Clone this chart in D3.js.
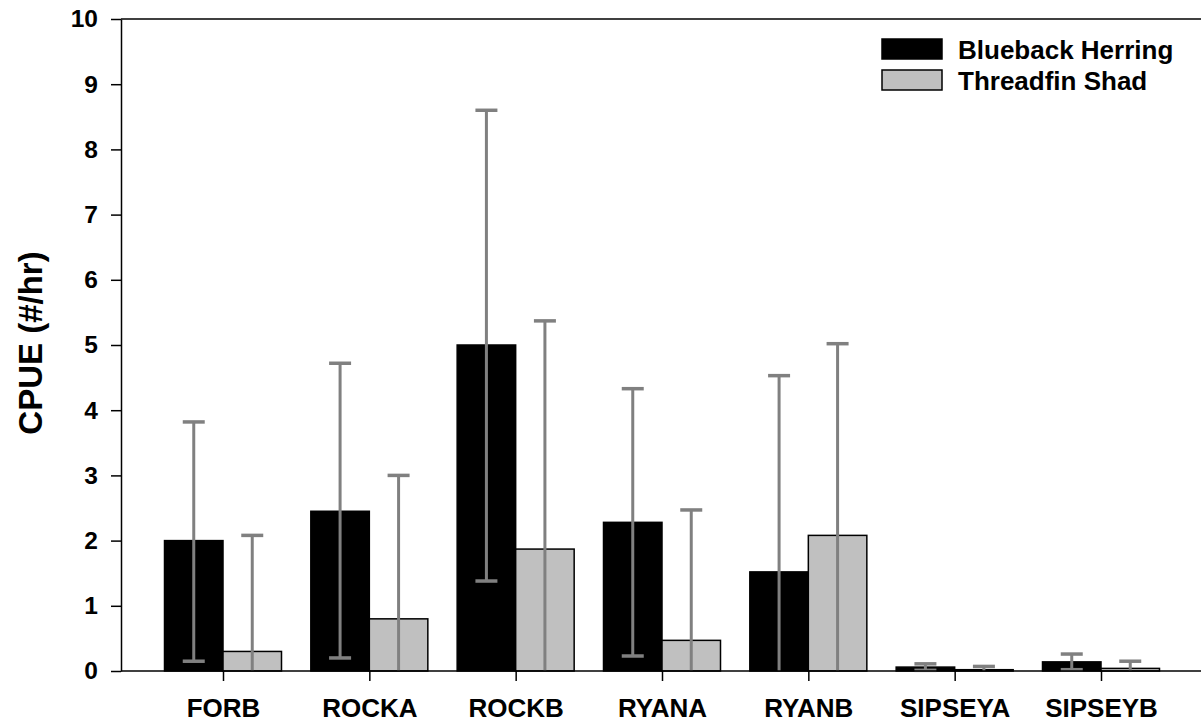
<!DOCTYPE html>
<html>
<head>
<meta charset="utf-8">
<script src="https://cdn.jsdelivr.net/npm/d3@7"></script>
<style>
  body { margin: 0; background: #fff; }
  text { font-family: "Liberation Sans", Arial, sans-serif; font-weight: bold; fill: #000; }
</style>
</head>
<body>
<div id="chart"></div>
<script>
// data
const sites = ["FORB", "ROCKA", "ROCKB", "RYANA", "RYANB", "SIPSEYA", "SIPSEYB"];
const species = ["Blueback Herring", "Threadfin Shad"];
const herring = [2.0, 2.45, 5.0, 2.28, 1.52, 0.06, 0.14];
const herringHi = [3.82, 4.72, 8.6, 4.33, 4.53, 0.11, 0.26];
const herringLo = [0.15, 0.2, 1.38, 0.23, 0, 0.01, 0.02];
const shad = [0.3, 0.8, 1.87, 0.47, 2.08, 0.02, 0.04];
const shadHi = [2.08, 3.0, 5.37, 2.47, 5.02, 0.07, 0.15];
const shadLo = [0, 0, 0, 0, 0, 0, 0];
const yTicks = [0, 1, 2, 3, 4, 5, 6, 7, 8, 9, 10];

const W = 1201, H = 728;
const svg = d3.select("#chart").append("svg")
    .attr("width", W).attr("height", H);

const y = d3.scaleLinear().domain([0, 10]).range([671, 19]);
const x = d3.scaleLinear().domain([0, sites.length - 1]).range([223, 1101]);
const barW = 58.5;

const series = [
    {name: species[0], vals: herring, hi: herringHi, lo: herringLo, fill: "#000", off: -1},
    {name: species[1], vals: shad, hi: shadHi, lo: shadLo, fill: "#c0c0c0", off: 0}
];

// bars
series.forEach(s => {
    svg.append("g").selectAll("rect")
        .data(s.vals)
        .enter().append("rect")
        .attr("x", (d, i) => x(i) + s.off * barW)
        .attr("y", d => y(d))
        .attr("width", barW)
        .attr("height", d => y(0) - y(d))
        .attr("fill", s.fill)
        .attr("stroke", "#000")
        .attr("stroke-width", 1.5);
});

// error bars
series.forEach(s => {
    const g = svg.append("g").attr("stroke", "#808080");
    s.vals.forEach((d, i) => {
        const cx = x(i) + s.off * barW + barW / 2;
        g.append("line")
            .attr("x1", cx).attr("x2", cx)
            .attr("y1", y(s.hi[i])).attr("y2", y(s.lo[i]))
            .attr("stroke-width", 3);
        g.append("line")
            .attr("x1", cx - 11).attr("x2", cx + 11)
            .attr("y1", y(s.hi[i])).attr("y2", y(s.hi[i]))
            .attr("stroke-width", 3.5);
        if (s.lo[i] > 0) {
            g.append("line")
                .attr("x1", cx - 11).attr("x2", cx + 11)
                .attr("y1", y(s.lo[i])).attr("y2", y(s.lo[i]))
                .attr("stroke-width", 3.5);
        }
    });
});

// frame lines
svg.append("line").attr("x1", 121).attr("x2", W).attr("y1", y(10)).attr("y2", y(10))
    .attr("stroke", "#000").attr("stroke-width", 1.5);
svg.append("line").attr("x1", 121).attr("x2", W).attr("y1", y(0)).attr("y2", y(0))
    .attr("stroke", "#000").attr("stroke-width", 1.5);

// y axis
const yAxis = svg.append("g")
    .attr("transform", "translate(121,0)")
    .call(d3.axisLeft(y).tickValues(yTicks).tickSize(10).tickPadding(13).tickSizeOuter(0));
yAxis.select(".domain").attr("stroke-width", 1.5);
yAxis.selectAll(".tick line").attr("stroke-width", 1.5);
yAxis.selectAll(".tick text").style("font-size", "24.5px").attr("font-family", null);

// x axis
const xAxis = svg.append("g")
    .attr("transform", `translate(0,${y(0)})`)
    .call(d3.axisBottom(x).tickValues(d3.range(sites.length)).tickFormat(i => sites[i])
        .tickSize(10).tickPadding(18).tickSizeOuter(0));
xAxis.select(".domain").remove();
xAxis.selectAll(".tick line").attr("stroke-width", 1.5);
xAxis.selectAll(".tick text").style("font-size", "26px").attr("font-family", null);

// y title
svg.append("text")
    .attr("transform", "translate(42,343) rotate(-90)")
    .attr("text-anchor", "middle")
    .style("font-size", "33px")
    .text("CPUE (#/hr)");

// legend
const legend = svg.append("g");
series.forEach((s, i) => {
    legend.append("rect")
        .attr("x", 882).attr("y", 39 + i * 31)
        .attr("width", 60).attr("height", 20)
        .attr("fill", s.fill).attr("stroke", "#000").attr("stroke-width", 1.5);
    legend.append("text")
        .attr("x", 958).attr("y", 59 + i * 31)
        .style("font-size", "26px")
        .text(s.name);
});
</script>
</body>
</html>
